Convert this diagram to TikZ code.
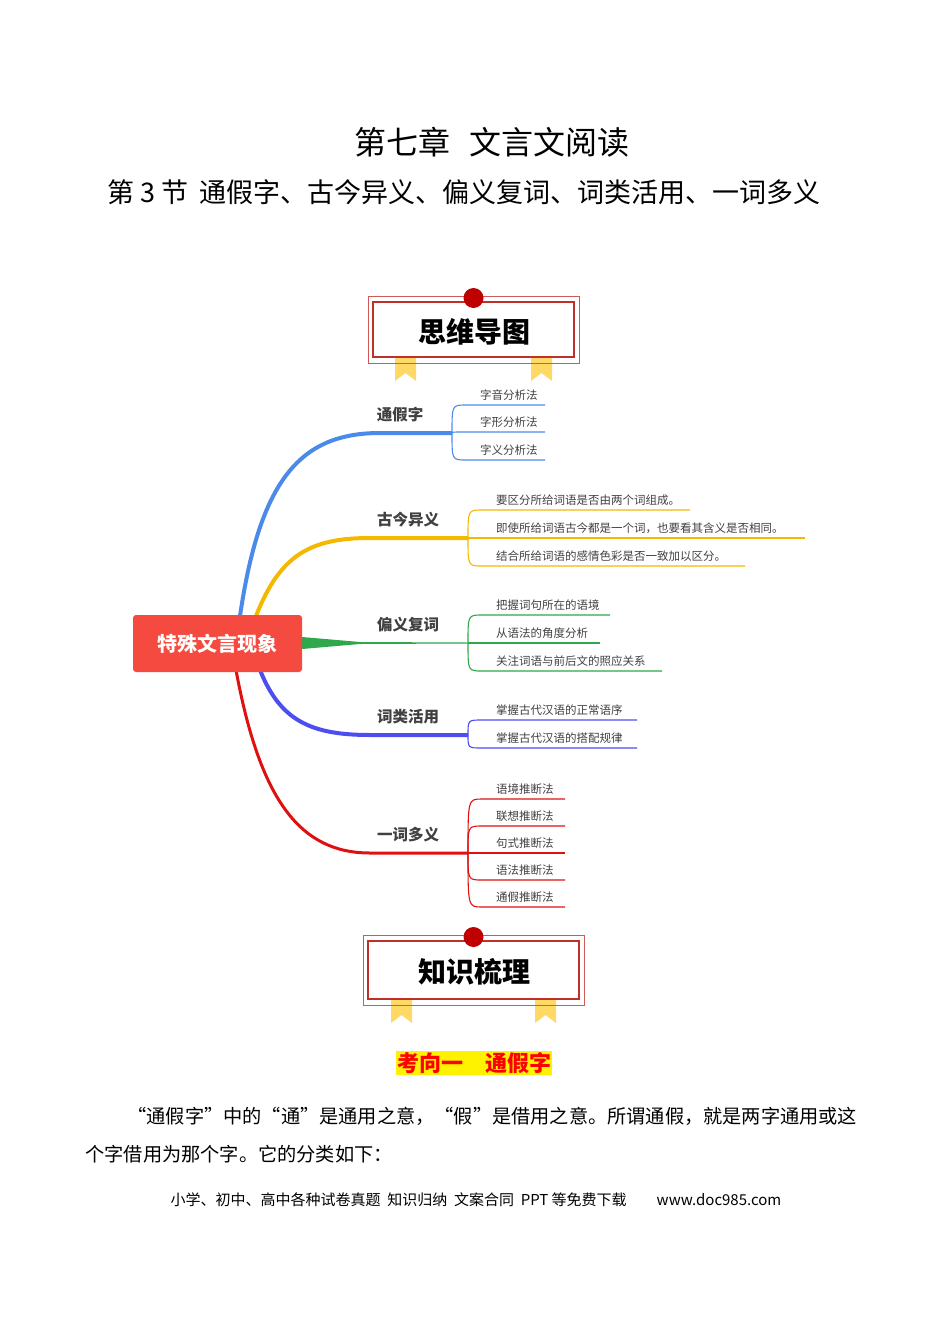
\documentclass[tikz,border=0pt]{standalone}
\usepackage{fontspec}
\setmainfont{Noto Sans CJK SC}
\definecolor{mred}{HTML}{F44A3F}
\definecolor{bblue}{HTML}{4A8AEA}
\definecolor{byel}{HTML}{F5B800}
\definecolor{bgreen}{HTML}{2EA84A}
\definecolor{bpur}{HTML}{4D4DF0}
\definecolor{bred}{HTML}{E01010}
\definecolor{frame}{HTML}{C0302A}
\definecolor{ribbon}{HTML}{FFD966}
\begin{document}
\begin{tikzpicture}[x=1pt,y=-1pt,
  lab/.style={font=\fontsize{15.5}{15}\selectfont\bfseries, text=black!75, anchor=south},
  sub/.style={font=\fontsize{11.5}{11}\selectfont, text=black!75, anchor=south west, inner sep=1pt},
  subline/.style={line width=1.1pt}]
\useasboundingbox (0,0) rectangle (950,1344);
\node (t1) at (492,142) {\fontsize{32}{32}\selectfont 第七章\hspace{0.6em}文言文阅读};
\node (t2) at (464,192) {\fontsize{27}{27}\selectfont 第 3 节\ \,通假字、古今异义、偏义复词、词类活用、一词多义};
% banners
\newcommand{\banner}[6]{%
 \fill[ribbon] (#5,#3-5) -- (#5+21,#3-5) -- (#5+21,#3+18) -- (#5+10.5,#3+10) -- (#5,#3+18) -- cycle;
 \fill[ribbon] (#6,#3-5) -- (#6+21,#3-5) -- (#6+21,#3+18) -- (#6+10.5,#3+10) -- (#6,#3+18) -- cycle;
 \draw[frame!80, line width=1pt] (#1,#2) rectangle (#4,#3);
 \draw[frame, line width=1.3pt] (#1+5,#2+6) rectangle (#4-5,#3-6);
 \fill[red!75!black] ({(#1+#4)/2},#2+2) circle (10);
}
\banner{368}{296}{363}{579}{395}{531}
\node (b1) at (474,332) {\fontsize{28}{28}\selectfont\bfseries 思维导图};
\banner{363}{935}{1005}{584}{391}{535}
\node (b2) at (474,972) {\fontsize{28}{28}\selectfont\bfseries 知识梳理};
% branches
\draw[bblue, line width=4pt] (240,616) .. controls (260,480) and (300,433) .. (380,433) -- (452,433);
\draw[byel, line width=4pt] (256,616) .. controls (280,555) and (310,538) .. (370,538) -- (468,538);
\fill[bgreen] (302,637) -- (360,642) -- (468,642.5) -- (468,643.5) -- (360,644) -- (302,649) -- cycle;
\draw[bpur, line width=4pt] (260,670) .. controls (280,720) and (310,735) .. (370,735) -- (468,735);
\draw[bred, line width=3pt] (236,670) .. controls (260,800) and (300,853) .. (370,853) -- (468,853);
\node[fill=mred, rounded corners=3pt, minimum width=169pt, minimum height=57pt, text=white, font=\fontsize{20}{20}\selectfont\bfseries] (root) at (217.5,643.5) {特殊文言现象};
\node[lab] (l1) at (400,426) {通假字};
\node[lab] (l2) at (408,531) {古今异义};
\node[lab] (l3) at (408,636) {偏义复词};
\node[lab] (l4) at (408,728) {词类活用};
\node[lab] (l5) at (408,846) {一词多义};
% sub-branches
\newcommand{\subs}[5]{% color, xstart, ybranch, y, xend
 \draw[#1, subline] (#2,#3) .. controls (#2,#4) .. (#2+14,#4) -- (#5,#4);}
\foreach \y in {405,432,460} {\subs{bblue}{452}{433}{\y}{545}}
\node[sub] (s11) at (479,402) {字音分析法};
\node[sub] (s12) at (479,429) {字形分析法};
\node[sub] (s13) at (479,457) {字义分析法};
\subs{byel}{468}{538}{510}{690}\subs{byel}{468}{538}{538}{805}\subs{byel}{468}{538}{566}{745}
\node[sub] (s21) at (495,507) {要区分所给词语是否由两个词组成。};
\node[sub] (s22) at (495,535) {即使所给词语古今都是一个词，也要看其含义是否相同。};
\node[sub] (s23) at (495,563) {结合所给词语的感情色彩是否一致加以区分。};
\subs{bgreen}{468}{643}{615}{610}\subs{bgreen}{468}{643}{643}{600}\subs{bgreen}{468}{643}{671}{662}
\node[sub] (s31) at (495,612) {把握词句所在的语境};
\node[sub] (s32) at (495,640) {从语法的角度分析};
\node[sub] (s33) at (495,668) {关注词语与前后文的照应关系};
\subs{bpur}{468}{735}{720}{637}\subs{bpur}{468}{735}{748}{637}
\node[sub] (s41) at (495,717) {掌握古代汉语的正常语序};
\node[sub] (s42) at (495,745) {掌握古代汉语的搭配规律};
\foreach \y in {799,826,853,880,907} {\subs{bred}{468}{853}{\y}{565}}
\node[sub] (s51) at (495,796) {语境推断法};
\node[sub] (s52) at (495,823) {联想推断法};
\node[sub] (s53) at (495,850) {句式推断法};
\node[sub] (s54) at (495,877) {语法推断法};
\node[sub] (s55) at (495,904) {通假推断法};
% text
\node[fill=yellow, text=red, inner sep=1pt, font=\fontsize{22}{22}\selectfont\bfseries] (k1) at (474,1063) {考向一\quad 通假字};
\node[anchor=west, font=\fontsize{19.2}{19}\selectfont] (p1) at (124,1116) {“通假字”中的“通”是通用之意，“假”是借用之意。所谓通假，就是两字通用或这};
\node[anchor=west, font=\fontsize{19.2}{19}\selectfont] (p2) at (82,1154) {个字借用为那个字。它的分类如下：};
\node[font=\fontsize{15}{15}\selectfont] (f1) at (476,1200) {小学、初中、高中各种试卷真题\ \ 知识归纳\ \ 文案合同\ \ PPT 等免费下载\qquad www.doc985.com};
\end{tikzpicture}
\end{document}
